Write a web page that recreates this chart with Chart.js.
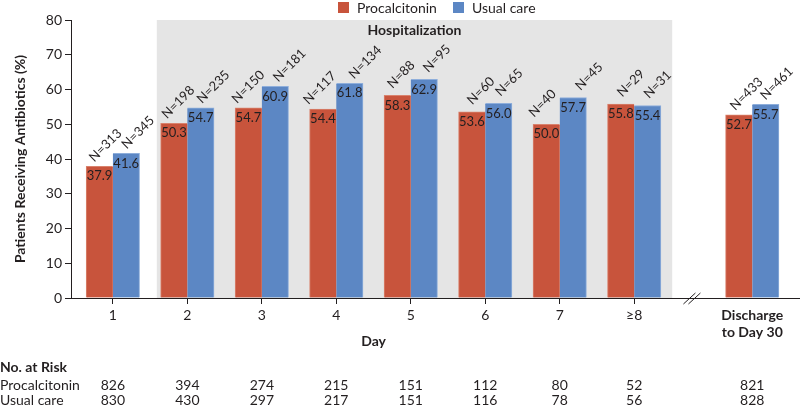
<!DOCTYPE html>
<html>
<head>
<meta charset="utf-8">
<script src="https://cdn.jsdelivr.net/npm/chart.js@4.4.1/dist/chart.umd.min.js"></script>
<style>
  html, body { margin: 0; padding: 0; background: #fff; }
  #wrap { width: 800px; height: 406px; position: relative; }
</style>
</head>
<body>
<div id="wrap"><canvas id="chart"></canvas></div>
<script>
// Values (percent of patients on antibiotics, by day)
const CATEGORIES = ["1", "2", "3", "4", "5", "6", "7", "≥8", ["Discharge", "to Day 30"]];
const SERIES_NAMES = ["Procalcitonin", "Usual care"];
const PCT_PROCALCITONIN = [37.9, 50.3, 54.7, 54.4, 58.3, 53.6, 50.0, 55.8, 52.7];
const PCT_USUAL_CARE = [41.6, 54.7, 60.9, 61.8, 62.9, 56.0, 57.7, 55.4, 55.7];
const N_PROCALCITONIN = [313, 198, 150, 117, 88, 60, 40, 29, 433];
const N_USUAL_CARE = [345, 235, 181, 134, 95, 65, 45, 31, 461];
const RISK_PROCALCITONIN = [826, 394, 274, 215, 151, 112, 80, 52, 821];
const RISK_USUAL_CARE = [830, 430, 297, 217, 151, 116, 78, 56, 828];
const Y_TICKS = [0, 10, 20, 30, 40, 50, 60, 70, 80];

// Layout: days sit at 1..8, the discharge group sits past an axis break.
const X_MIN = 0.438, X_MAX = 10.226;
const DISCHARGE_X = 9.585;
const BREAK_X = 8.775;
const SHADE_FROM = 1.59, SHADE_TO = 8.51; // "Hospitalization" panel
const RED = "#c8543c";
const BLUE = "#5c87c4";
const TEXT = "#231f20";
const FONT = "Lato";
const N_LABEL_GAP = 14; // min distance between the two slanted N labels of a group

const xPos = CATEGORIES.map((c, i) => (i < 8 ? i + 1 : DISCHARGE_X));

Chart.defaults.font.family = FONT;
Chart.defaults.color = TEXT;

function font(size, bold) {
  return `${bold ? "bold " : ""}${size}px ${FONT}`;
}

function drawRotated(ctx, text, cx, cy) {
  ctx.save();
  ctx.translate(cx, cy);
  ctx.rotate(-Math.PI / 4);
  ctx.fillText(text, 0, 0);
  ctx.restore();
}

const overlay = {
  id: "overlay",
  beforeDraw(chart) {
    const { ctx, scales: { x, y } } = chart;
    const left = x.getPixelForValue(SHADE_FROM);
    const right = x.getPixelForValue(SHADE_TO);
    const top = y.getPixelForValue(Y_TICKS[Y_TICKS.length - 1]);
    ctx.save();
    ctx.fillStyle = "#e5e5e5";
    ctx.fillRect(left, top, right - left, y.bottom - top);
    ctx.fillStyle = TEXT;
    ctx.font = font(14, true);
    ctx.textAlign = "center";
    ctx.textBaseline = "middle";
    ctx.fillText("Hospitalization", (left + right) / 2, top + 10);
    ctx.restore();
  },
  afterDatasetsDraw(chart) {
    const { ctx } = chart;
    const redBars = chart.getDatasetMeta(0).data;
    const blueBars = chart.getDatasetMeta(1).data;
    ctx.save();
    ctx.fillStyle = TEXT;
    ctx.font = font(13, false);
    ctx.textAlign = "center";
    ctx.textBaseline = "middle";
    redBars.forEach((red, i) => {
      const blue = blueBars[i];
      ctx.fillText(PCT_PROCALCITONIN[i].toFixed(1), red.x, red.y + 10);
      ctx.fillText(PCT_USUAL_CARE[i].toFixed(1), blue.x, blue.y + 10);
      // N labels on a 45° slant above each bar; spread apart when they'd collide
      let rx = red.x + 10, bx = blue.x + 10;
      const ry = red.y - 21, by = blue.y - 21;
      const sep = (bx - rx + (by - ry)) / Math.SQRT2;
      if (sep < N_LABEL_GAP) {
        const push = (N_LABEL_GAP - sep) * Math.SQRT2;
        rx -= push * 0.7;
        bx += push * 0.3;
      }
      drawRotated(ctx, "N=" + N_PROCALCITONIN[i], rx, ry);
      drawRotated(ctx, "N=" + N_USUAL_CARE[i], bx, by);
    });
    ctx.restore();
  },
  afterDraw(chart) {
    const { ctx, scales: { x, y } } = chart;
    ctx.save();

    // legend
    const legendX = [338, 453];
    chart.data.datasets.forEach((ds, di) => {
      ctx.fillStyle = ds.backgroundColor;
      ctx.fillRect(legendX[di], 2, 11, 11);
      ctx.fillStyle = TEXT;
      ctx.font = font(14, false);
      ctx.textAlign = "left";
      ctx.textBaseline = "middle";
      ctx.fillText(ds.label, legendX[di] + 19, 8);
    });

    // axis break
    const bx = x.getPixelForValue(BREAK_X);
    const by = y.bottom;
    ctx.strokeStyle = TEXT;
    ctx.lineWidth = 1;
    [-2.5, 2.5].forEach((dx) => {
      ctx.beginPath();
      ctx.moveTo(bx + dx - 6, by + 6);
      ctx.lineTo(bx + dx + 6, by - 5);
      ctx.stroke();
    });

    // "Day" under the daily groups
    ctx.fillStyle = TEXT;
    ctx.font = font(14, true);
    ctx.textAlign = "center";
    ctx.textBaseline = "middle";
    ctx.fillText("Day", (x.getPixelForValue(xPos[0]) + x.getPixelForValue(xPos[7])) / 2, 341);

    // number at risk table
    ctx.textAlign = "left";
    ctx.fillText("No. at Risk", 0, 367);
    ctx.font = font(14, false);
    ctx.fillText(SERIES_NAMES[0], 0, 385);
    ctx.fillText(SERIES_NAMES[1], 0, 400);
    ctx.textAlign = "center";
    xPos.forEach((v, i) => {
      const px = x.getPixelForValue(v);
      ctx.fillText(String(RISK_PROCALCITONIN[i]), px, 385);
      ctx.fillText(String(RISK_USUAL_CARE[i]), px, 400);
    });
    ctx.restore();
  },
};

new Chart(document.getElementById("chart"), {
  type: "bar",
  data: {
    datasets: [
      {
        label: SERIES_NAMES[0],
        data: PCT_PROCALCITONIN.map((v, i) => ({ x: xPos[i], y: v })),
        backgroundColor: RED,
        borderColor: "#d9826d",
        borderWidth: { top: 1, right: 0, bottom: 0, left: 1 },
        borderSkipped: false,
      },
      {
        label: SERIES_NAMES[1],
        data: PCT_USUAL_CARE.map((v, i) => ({ x: xPos[i], y: v })),
        backgroundColor: BLUE,
        borderColor: "#8eaedb",
        borderWidth: { top: 1, right: 1, bottom: 0, left: 0 },
        borderSkipped: false,
      },
    ],
  },
  options: {
    responsive: true,
    maintainAspectRatio: false,
    animation: false,
    barThickness: 26.7,
    layout: { padding: { top: 20, left: 0, right: 0, bottom: 0 } },
    plugins: { legend: { display: false }, tooltip: { enabled: false } },
    scales: {
      x: {
        type: "linear",
        min: X_MIN,
        max: X_MAX,
        offset: false,
        afterFit(scale) { scale.height = 108; },
        afterBuildTicks(scale) { scale.ticks = xPos.map((v) => ({ value: v })); },
        grid: {
          offset: false,
          drawOnChartArea: false,
          drawTicks: true,
          tickLength: 6,
          tickColor: (c) => (c.index === 8 ? "rgba(0,0,0,0)" : TEXT),
        },
        border: { display: true, color: TEXT, width: 1 },
        ticks: {
          autoSkip: false,
          maxRotation: 0,
          padding: 3,
          color: TEXT,
          font: (c) => ({ size: 14, weight: c.index === 8 ? "bold" : "normal" }),
          callback: (v, i) => CATEGORIES[i],
        },
      },
      y: {
        min: Y_TICKS[0],
        max: Y_TICKS[Y_TICKS.length - 1],
        afterFit(scale) { scale.width = 71; },
        afterBuildTicks(scale) { scale.ticks = Y_TICKS.map((v) => ({ value: v })); },
        grid: { drawOnChartArea: false, drawTicks: true, tickLength: 6, tickColor: TEXT },
        border: { display: true, color: TEXT, width: 1 },
        ticks: { padding: 3, color: TEXT, font: { size: 14 } },
        title: {
          display: true,
          text: "Patients Receiving Antibiotics (%)",
          color: TEXT,
          font: { size: 14, weight: "bold" },
          padding: { top: 12, bottom: 0 },
        },
      },
    },
  },
  plugins: [overlay],
});
</script>
</body>
</html>
